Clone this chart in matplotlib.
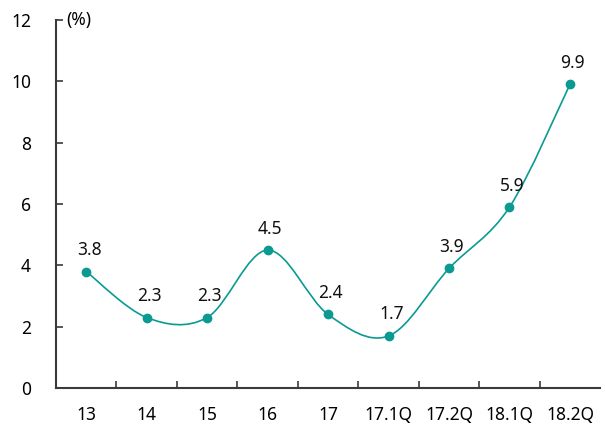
import matplotlib
matplotlib.use("Agg")
import matplotlib.pyplot as plt
from matplotlib.path import Path
from matplotlib.patches import PathPatch
import numpy as np

categories = ["13", "14", "15", "16", "17", "17.1Q", "17.2Q", "18.1Q", "18.2Q"]
values = [3.8, 2.3, 2.3, 4.5, 2.4, 1.7, 3.9, 5.9, 9.9]
y_ticks = [0, 2, 4, 6, 8, 10, 12]

teal = "#0a9a92"
axis_col = "#3a3a3a"

plt.rcParams["font.family"] = ["Noto Sans", "DejaVu Sans"]

fig = plt.figure(figsize=(6.06, 4.26), dpi=100)
ax = fig.add_axes([0.0924, 0.089, 0.898, 0.864])

x = np.arange(len(categories))
y = np.array(values)

# smoothed line (catmull-rom style bezier, like a spreadsheet "smoothed line")
pts = np.column_stack([x, y])
ext = np.vstack([pts[0], pts, pts[-1]])
verts = [tuple(pts[0])]
codes = [Path.MOVETO]
for i in range(1, len(ext) - 2):
    p0, p1, p2, p3 = ext[i - 1], ext[i], ext[i + 1], ext[i + 2]
    c1 = p1 + (p2 - p0) / 6.0
    c2 = p2 - (p3 - p1) / 6.0
    verts += [tuple(c1), tuple(c2), tuple(p2)]
    codes += [Path.CURVE4] * 3
ax.add_patch(PathPatch(Path(verts, codes), fill=False, edgecolor=teal, lw=1.2))

ax.plot(x, y, "o", color=teal, markersize=6, zorder=3)

for xi, yi in zip(x, y):
    ax.annotate(f"{yi:.1f}", (xi, yi), xytext=(2, 9), textcoords="offset points",
                ha="center", va="bottom", fontsize=12.5, color="#111111")

ax.set_xlim(-0.5, len(categories) - 0.5)
ax.set_ylim(0, 12)
ax.set_yticks(y_ticks)
ax.set_yticklabels([str(t) for t in y_ticks])
ax.set_xticks(x)
ax.set_xticklabels(categories)
ax.set_xticks(x[:-1] + 0.5, minor=True)

ax.tick_params(axis="x", which="major", length=0, pad=13, labelsize=12.5)
ax.tick_params(axis="x", which="minor", direction="in", length=5, width=1.2, color=axis_col)
ax.tick_params(axis="y", direction="in", length=5, width=1.2, color=axis_col, pad=18, labelsize=12.5)

for s in ["top", "right"]:
    ax.spines[s].set_visible(False)
for s in ["left", "bottom"]:
    ax.spines[s].set_color(axis_col)
    ax.spines[s].set_linewidth(1.5)

ax.text(0.018, 1.0, "(%)", transform=ax.transAxes, ha="left", va="center", fontsize=12.5)

fig.savefig("out.png", dpi=100)
